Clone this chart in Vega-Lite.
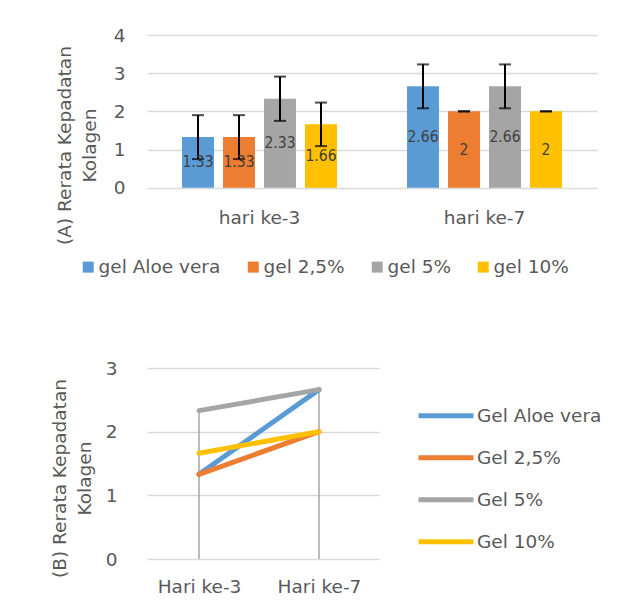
{
  "$schema": "https://vega.github.io/schema/vega-lite/v6.json",
  "background": "white",
  "padding": {"left": 50, "top": 26, "right": 0, "bottom": 0},
  "spacing": 82,
  "config": {
    "view": {"stroke": null},
    "font": "DejaVu Sans",
    "axis": {
      "labelFont": "DejaVu Sans",
      "titleFont": "DejaVu Sans",
      "labelColor": "#595959",
      "titleColor": "#595959",
      "labelFontSize": 18.5,
      "titleFontSize": 18.5,
      "titleFontWeight": "normal",
      "gridColor": "#d9d9d9",
      "gridWidth": 1.5,
      "domain": false,
      "ticks": false,
      "labelOverlap": false
    },
    "legend": {"labelFont": "DejaVu Sans", "labelFontSize": 18.5, "labelColor": "#595959"}
  },
  "datasets": {
    "bars": [
      {"hari": "hari ke-3", "seri": "gel Aloe vera", "nilai": 1.33, "lo": 0.75, "hi": 1.9},
      {"hari": "hari ke-3", "seri": "gel 2,5%", "nilai": 1.33, "lo": 0.75, "hi": 1.9},
      {"hari": "hari ke-3", "seri": "gel 5%", "nilai": 2.33, "lo": 1.75, "hi": 2.91},
      {"hari": "hari ke-3", "seri": "gel 10%", "nilai": 1.66, "lo": 1.09, "hi": 2.23},
      {"hari": "hari ke-7", "seri": "gel Aloe vera", "nilai": 2.66, "lo": 2.08, "hi": 3.23},
      {"hari": "hari ke-7", "seri": "gel 2,5%", "nilai": 2, "lo": 2, "hi": 2},
      {"hari": "hari ke-7", "seri": "gel 5%", "nilai": 2.66, "lo": 2.08, "hi": 3.23},
      {"hari": "hari ke-7", "seri": "gel 10%", "nilai": 2, "lo": 2, "hi": 2}
    ],
    "lines": [
      {"hari": "Hari ke-3", "seri": "Gel Aloe vera", "nilai": 1.33},
      {"hari": "Hari ke-7", "seri": "Gel Aloe vera", "nilai": 2.66},
      {"hari": "Hari ke-3", "seri": "Gel 2,5%", "nilai": 1.33},
      {"hari": "Hari ke-7", "seri": "Gel 2,5%", "nilai": 2},
      {"hari": "Hari ke-3", "seri": "Gel 5%", "nilai": 2.33},
      {"hari": "Hari ke-7", "seri": "Gel 5%", "nilai": 2.66},
      {"hari": "Hari ke-3", "seri": "Gel 10%", "nilai": 1.66},
      {"hari": "Hari ke-7", "seri": "Gel 10%", "nilai": 2}
    ]
  },
  "vconcat": [
    {
      "width": 450,
      "height": 152.7,
      "data": {"name": "bars"},
      "encoding": {
        "x": {"field": "hari", "type": "nominal", "scale": {"paddingInner": 0, "paddingOuter": 0}, "axis": {"title": null, "labelAngle": 0, "labelPadding": 21}},
        "xOffset": {"field": "seri", "type": "nominal", "sort": ["gel Aloe vera", "gel 2,5%", "gel 5%", "gel 10%"], "scale": {"paddingInner": 0.22, "paddingOuter": 0.854}}
      },
      "layer": [
        {
          "layer": [
            {
              "mark": {"type": "bar"},
              "encoding": {
                "y": {"field": "nilai", "type": "quantitative", "scale": {"domain": [0, 4]},
                  "axis": {"values": [0, 1, 2, 3, 4], "labelPadding": 22, "title": ["(A) Rerata Kepadatan", "Kolagen"], "titleLineHeight": 25, "titlePadding": 14, "titleY": 110}},
                "color": {"field": "seri", "type": "nominal",
                  "scale": {"domain": ["gel Aloe vera", "gel 2,5%", "gel 5%", "gel 10%"], "range": ["#5B9BD5", "#ED7D31", "#A5A5A5", "#FFC000"]},
                  "legend": {"orient": "none", "legendX": -68, "legendY": 222.75, "direction": "horizontal", "columns": 4, "title": null, "symbolType": "square", "symbolSize": 121, "symbolStrokeWidth": 0, "padding": 0, "columnPadding": 23, "labelOffset": 1}}
              }
            },
            {
              "mark": {"type": "rule", "color": "black", "strokeWidth": 2},
              "encoding": {
                "y": {"field": "lo", "type": "quantitative",
                  "axis": {"values": [0, 1, 2, 3, 4], "labelPadding": 22, "title": ["(A) Rerata Kepadatan", "Kolagen"], "titleLineHeight": 25, "titlePadding": 14, "titleY": 110}},
                "y2": {"field": "hi"}
              }
            },
            {
              "mark": {"type": "tick", "color": "black", "size": 12, "thickness": 2},
              "encoding": {"y": {"field": "lo", "type": "quantitative",
                "axis": {"values": [0, 1, 2, 3, 4], "labelPadding": 22, "title": ["(A) Rerata Kepadatan", "Kolagen"], "titleLineHeight": 25, "titlePadding": 14, "titleY": 110}}}
            },
            {
              "mark": {"type": "tick", "color": "black", "size": 12, "thickness": 2},
              "encoding": {"y": {"field": "hi", "type": "quantitative",
                "axis": {"values": [0, 1, 2, 3, 4], "labelPadding": 22, "title": ["(A) Rerata Kepadatan", "Kolagen"], "titleLineHeight": 25, "titlePadding": 14, "titleY": 110}}}
            }
          ]
        },
        {
          "mark": {"type": "text", "font": "DejaVu Sans Condensed", "fontSize": 15.5, "color": "#404040"},
          "encoding": {
            "y": {"field": "nilai", "type": "quantitative", "scale": {"domain": [0, 8]}, "axis": null},
            "text": {"field": "nilai", "type": "quantitative"}
          }
        }
      ],
      "resolve": {"scale": {"y": "independent"}}
    },
    {
      "width": 232,
      "height": 191,
      "data": {"name": "lines"},
      "encoding": {
        "x": {"field": "hari", "type": "nominal", "scale": {"type": "point", "padding": 0.4667, "align": 0.4643}, "axis": {"title": null, "labelAngle": 0, "labelPadding": 18}}
      },
      "layer": [
        {
          "mark": {"type": "rule", "color": "#a5a5a5", "strokeWidth": 1.5},
          "encoding": {
            "y": {"aggregate": "max", "field": "nilai", "type": "quantitative", "scale": {"domain": [0, 3]},
              "axis": {"values": [0, 1, 2, 3], "labelPadding": 30, "title": ["(B) Rerata Kepadatan", "Kolagen"], "titleLineHeight": 25, "titlePadding": 11, "titleY": 110}},
            "y2": {"datum": 0}
          }
        },
        {
          "mark": {"type": "line", "strokeWidth": 5, "strokeCap": "round"},
          "encoding": {
            "y": {"field": "nilai", "type": "quantitative", "scale": {"domain": [0, 3]},
              "axis": {"values": [0, 1, 2, 3], "labelPadding": 30, "title": ["(B) Rerata Kepadatan", "Kolagen"], "titleLineHeight": 25, "titlePadding": 11, "titleY": 110}},
            "color": {"field": "seri", "type": "nominal",
              "scale": {"domain": ["Gel Aloe vera", "Gel 2,5%", "Gel 5%", "Gel 10%"], "range": ["#5B9BD5", "#ED7D31", "#A5A5A5", "#FFC000"]},
              "legend": {"orient": "none", "legendX": 269, "legendY": 17.75, "title": null, "symbolType": "stroke", "symbolSize": 3025, "symbolStrokeWidth": 5, "rowPadding": 2, "labelOffset": 1, "padding": 0}}
          }
        }
      ]
    }
  ],
  "resolve": {"scale": {"color": "independent", "x": "independent", "y": "independent", "xOffset": "independent"}}
}
